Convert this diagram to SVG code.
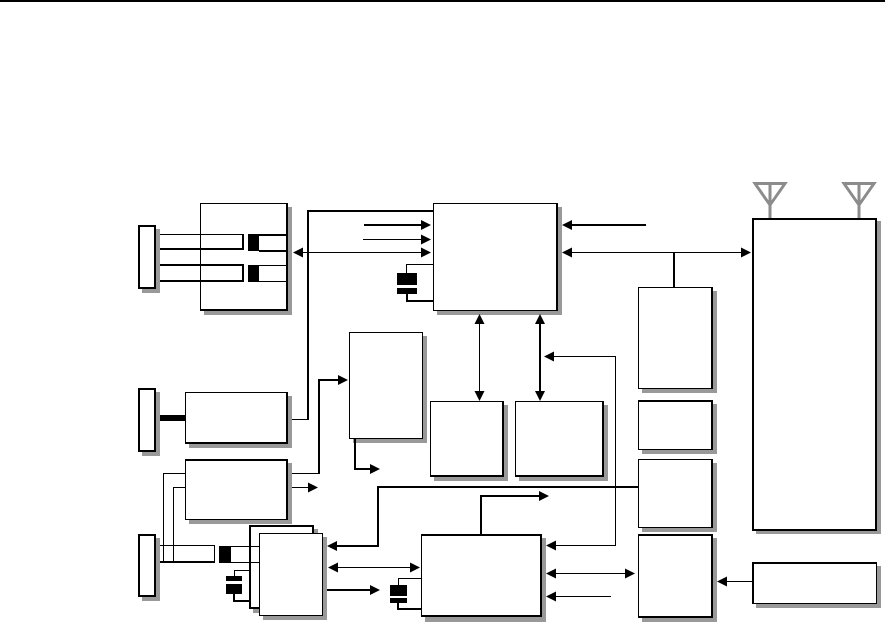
<svg xmlns="http://www.w3.org/2000/svg" width="885" height="622" viewBox="0 0 885 622">
<style>
.shadow{fill:#999}
.box{fill:#fff;stroke:#000;stroke-width:1;shape-rendering:crispEdges}
.box2{fill:#fff;stroke:#000;stroke-width:2;shape-rendering:crispEdges}
.rb{fill:#000}
.c1{fill:none;stroke:#000;stroke-width:1;shape-rendering:crispEdges}
.c2{fill:none;stroke:#000;stroke-width:2;shape-rendering:crispEdges}
.ant{fill:none;stroke:#8c8c8c;stroke-width:3}
</style>
<defs>
<polygon id="R" points="-10,-5 0,0 -10,5" fill="#000"/>
<polygon id="L" points="10,-5 0,0 10,5" fill="#000"/>
<polygon id="U" points="-5,10 0,0 5,10" fill="#000"/>
<polygon id="D" points="-5,-10 0,0 5,-10" fill="#000"/>
</defs>
<rect x="0" y="0" width="885" height="2" fill="#000"/>

<g id="jack-1"><rect class="shadow" x="142" y="229" width="18" height="64"/><rect class="box2" x="139" y="226" width="16" height="62"/></g>
<g id="jack-2"><rect class="shadow" x="142" y="392" width="18" height="64"/><rect class="box2" x="139" y="389" width="16" height="62"/></g>
<g id="jack-3"><rect class="shadow" x="142" y="538" width="18" height="63"/><rect class="box2" x="139" y="535" width="16" height="61"/></g>

<g id="node-a"><rect class="shadow" x="204" y="207" width="88" height="108"/><rect class="box" x="200.500" y="203.500" width="87" height="107"/><rect class="rb" x="286" y="203" width="2" height="108"/><rect class="rb" x="200" y="309" width="88" height="2"/></g>
<g id="node-b"><rect class="shadow" x="189" y="396" width="103" height="52"/><rect class="box" x="185.500" y="392.500" width="102" height="51"/><rect class="rb" x="286" y="392" width="2" height="52"/><rect class="rb" x="185" y="442" width="103" height="2"/></g>
<g id="node-c"><rect class="shadow" x="189" y="463" width="103" height="61"/><rect class="box" x="185.500" y="459.500" width="102" height="60"/><rect class="rb" x="185" y="459" width="103" height="2"/><rect class="rb" x="286" y="459" width="2" height="61"/></g>
<g id="node-d"><rect class="shadow" x="353" y="336" width="74" height="107"/><rect class="box" x="349.500" y="332.500" width="73" height="106"/></g>
<g id="node-e"><rect class="shadow" x="437" y="207" width="125" height="108"/><rect class="box" x="433.500" y="203.500" width="124" height="107"/><rect class="rb" x="556" y="203" width="2" height="108"/></g>
<g id="node-f"><rect class="shadow" x="434" y="405" width="74" height="76"/><rect class="box" x="430.500" y="401.500" width="73" height="75"/><rect class="rb" x="502" y="401" width="2" height="76"/><rect class="rb" x="430" y="475" width="74" height="2"/></g>
<g id="node-g"><rect class="shadow" x="519" y="405" width="89" height="76"/><rect class="box" x="515.500" y="401.500" width="88" height="75"/><rect class="rb" x="602" y="401" width="2" height="76"/><rect class="rb" x="515" y="475" width="89" height="2"/></g>
<g id="node-h"><rect class="shadow" x="642" y="291" width="75" height="102"/><rect class="box" x="638.500" y="287.500" width="74" height="101"/><rect class="rb" x="711" y="287" width="2" height="102"/></g>
<g id="node-i"><rect class="shadow" x="642" y="404" width="75" height="50"/><rect class="box" x="638.500" y="400.500" width="74" height="49"/><rect class="rb" x="711" y="400" width="2" height="50"/><rect class="rb" x="638" y="400" width="75" height="2"/></g>
<g id="node-j"><rect class="shadow" x="642" y="463" width="75" height="69"/><rect class="box" x="638.500" y="459.500" width="74" height="68"/><rect class="rb" x="711" y="459" width="2" height="69"/></g>
<g id="node-k"><rect class="shadow" x="642" y="538" width="75" height="84"/><rect class="box" x="638.500" y="534.500" width="74" height="83"/><rect class="rb" x="638" y="534" width="75" height="2"/><rect class="rb" x="638" y="616" width="75" height="2"/><rect class="rb" x="711" y="534" width="2" height="84"/></g>
<g id="node-l"><rect class="shadow" x="756" y="221" width="125" height="313"/><rect class="box2" x="753" y="219" width="123" height="311"/></g>
<g id="node-m"><rect class="shadow" x="756" y="566" width="125" height="42"/><rect class="box" x="752.500" y="562.500" width="124" height="41"/><rect class="rb" x="752" y="562" width="125" height="2"/><rect class="rb" x="752" y="562" width="2" height="42"/></g>
<g id="node-n"><rect class="shadow" x="425" y="538" width="121" height="84"/><rect class="box" x="421.500" y="534.500" width="120" height="82"/><rect class="rb" x="421" y="534" width="121" height="2"/><rect class="rb" x="540" y="534" width="2" height="83"/><rect class="rb" x="421" y="615" width="121" height="2"/></g>
<g id="node-o"><rect class="shadow" x="253" y="529" width="65" height="84"/><rect class="box2" x="250" y="526" width="63" height="82"/></g>
<g id="node-p"><rect class="shadow" x="263" y="537" width="64" height="83"/><rect class="box" x="259.500" y="533.500" width="63" height="82"/></g>

<g id="connectors">
<path class="c1" d="M160 234.500H243"/><path class="c2" d="M160 249H243V234"/>
<path class="c2" d="M160 265H243V281H160"/>
<rect x="248" y="234" width="11" height="17" fill="#000"/><rect x="248" y="265" width="11" height="17" fill="#000"/>
<path class="c2" d="M259 235H287"/><path class="c2" d="M259 251H287"/>
<path class="c1" d="M259 265.500H287"/><path class="c1" d="M259 281.500H287"/>
<path class="c2" d="M308 420V211H433"/><path class="c1" d="M292 419.500H309"/>
<path class="c2" d="M364 225H422"/><use href="#R" x="431" y="225"/>
<path class="c1" d="M363 239.500H422"/><use href="#R" x="431" y="239.500"/>
<path class="c1" d="M302 252.500H422"/><use href="#L" x="293" y="252.500"/><use href="#R" x="431" y="252.500"/>
<path class="c1" d="M433 264.500H406.500V273"/><path class="c2" d="M433 301H407V294"/>
<rect x="397" y="273" width="20" height="12" fill="#000"/><rect x="397" y="288" width="20" height="6" fill="#000"/>
<rect x="160" y="415" width="26" height="6" fill="#000"/>
<path class="c1" d="M292 473.500H319"/><path class="c2" d="M319 474V380H338"/><use href="#R" x="348" y="380"/>
<path class="c1" d="M292 487.500H309"/><use href="#R" x="318" y="487.500"/>
<path class="c2" d="M355 438V469H371"/><use href="#R" x="380" y="469"/>
<path class="c1" d="M163.500 562V473.500H185"/><path class="c1" d="M173.500 562V487.500H185"/>
<path class="c1" d="M160 545.500H214.500V561"/><path class="c2" d="M160 562H215"/>
<rect x="219" y="546" width="12" height="17" fill="#000"/>
<path class="c1" d="M231 546.500H260"/><path class="c1" d="M231 562.500H260"/>
<path class="c1" d="M250 570.500H234.500V577"/><path class="c2" d="M250 601H234V594"/>
<rect x="226" y="576" width="16" height="5" fill="#000"/><rect x="226" y="584" width="16" height="10" fill="#000"/>
<path class="c2" d="M638 487H378V546H336"/><use href="#L" x="327" y="546"/>
<path class="c1" d="M337 567.500H411"/><use href="#L" x="328" y="567.500"/><use href="#R" x="420" y="567.500"/>
<path class="c2" d="M327 590H371"/><use href="#R" x="380" y="590"/>
<path class="c1" d="M421 578.500H398.500V585"/><path class="c2" d="M421 609H398V603"/>
<rect x="390" y="585" width="17" height="11" fill="#000"/><rect x="390" y="598" width="17" height="5" fill="#000"/>
<path class="c2" d="M481 534V496H540"/><use href="#R" x="549" y="496"/>
<path class="c1" d="M615.500 356.500V545.500H555"/><path class="c1" d="M615.500 356.500H553"/><use href="#L" x="546" y="545.500"/><use href="#L" x="544" y="356.500"/>
<path class="c1" d="M555 573.500H626"/><use href="#L" x="546" y="573.500"/><use href="#R" x="635" y="573.500"/>
<path class="c1" d="M555 596.500H611"/><use href="#L" x="546" y="596.500"/>
<path class="c1" d="M479.500 323V392"/><use href="#U" x="479.500" y="314"/><use href="#D" x="479.500" y="401"/>
<path class="c2" d="M540 323V392"/><use href="#U" x="540" y="314"/><use href="#D" x="540" y="401"/>
<path class="c2" d="M571 225H646"/><use href="#L" x="562" y="225"/>
<path class="c1" d="M571 252.500H742"/><use href="#L" x="562" y="252.500"/><use href="#R" x="751" y="252.500"/>
<path class="c2" d="M674 252V287"/>
<path class="c1" d="M752 581.500H725"/><use href="#L" x="717" y="581.500"/>
</g>
<g id="antennas">
<path class="ant" d="M755 183.500H785L770 205ZM770 183.500V218"/>
<path class="ant" d="M844 183.500H874L859 205ZM859 183.500V218"/>
</g>
</svg>
